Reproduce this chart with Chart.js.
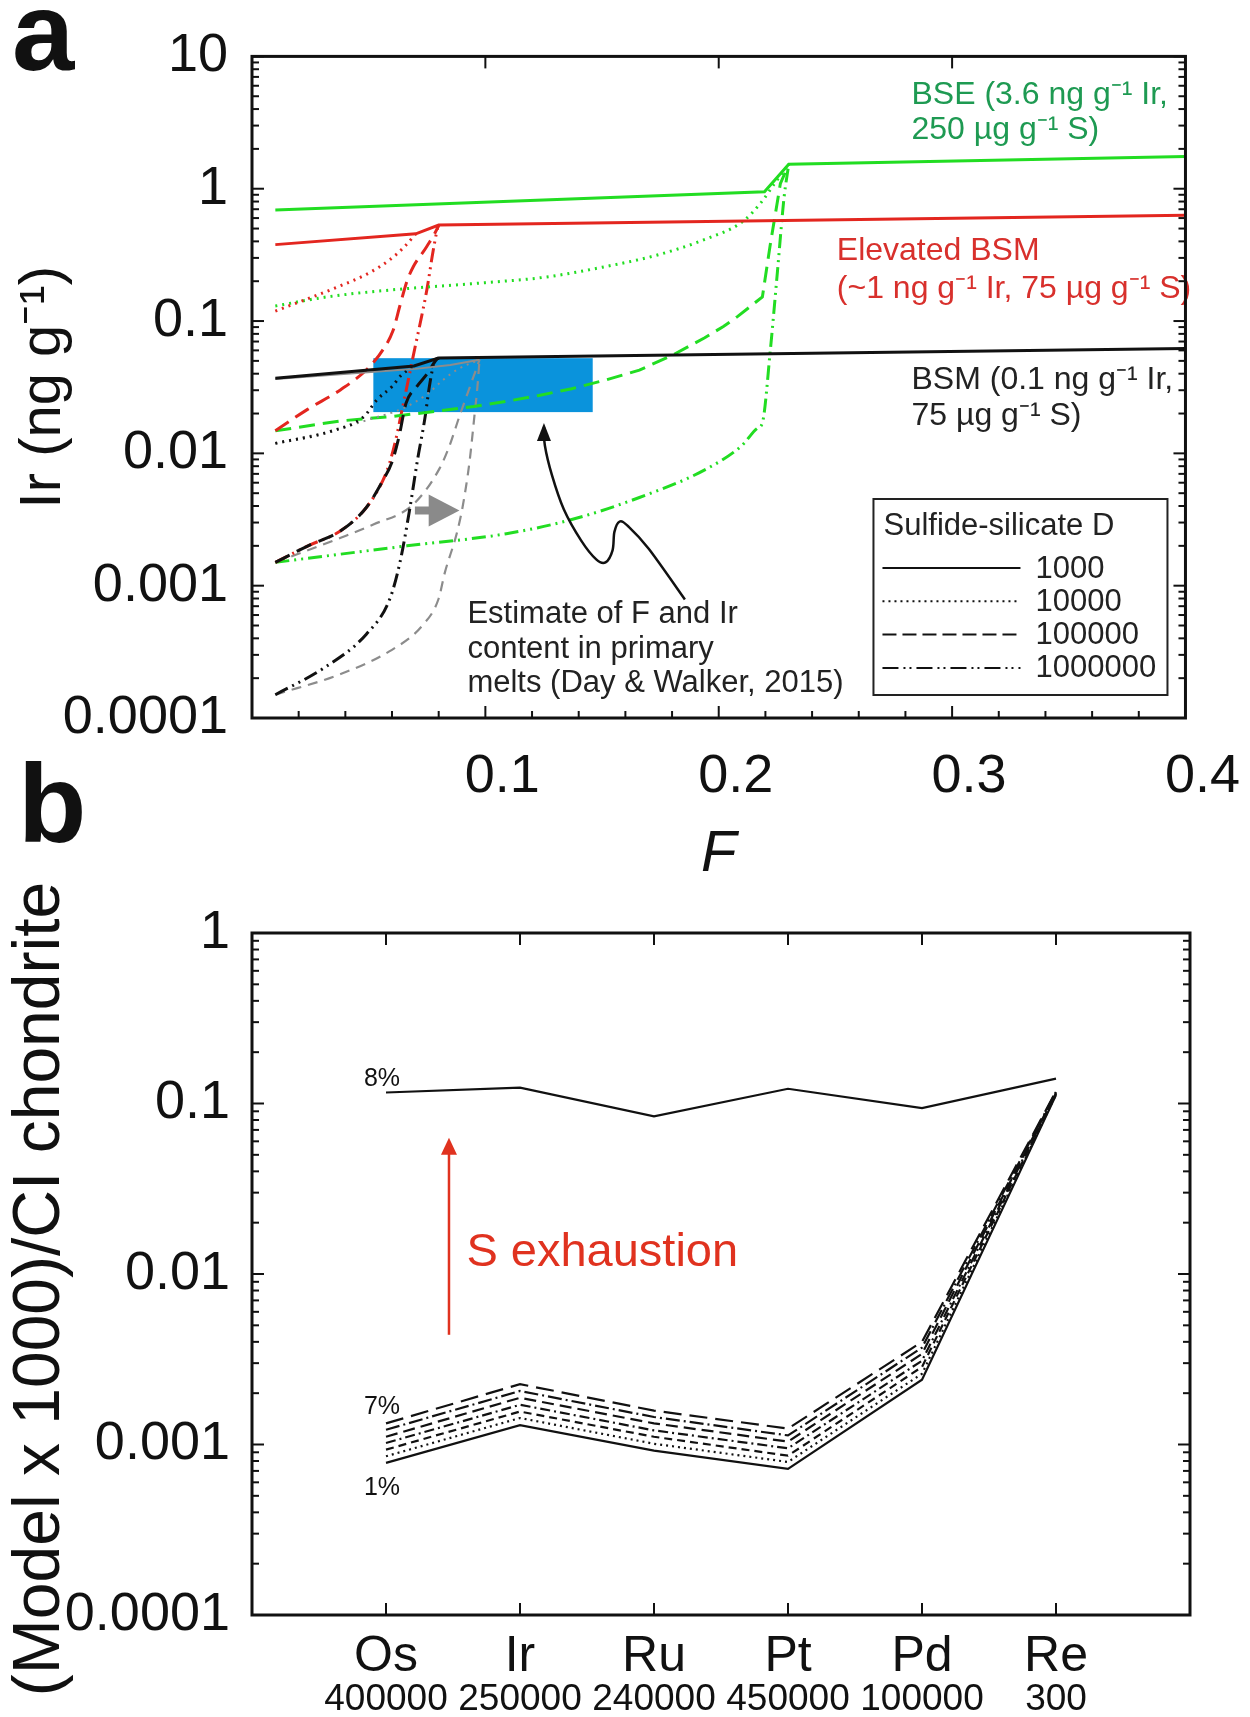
<!DOCTYPE html>
<html lang="en">
<head>
<meta charset="UTF-8">
<title>Ir in melts vs F / HSE patterns</title>
<script src="https://cdn.jsdelivr.net/npm/chart.js"></script>
<style>
  body { margin: 0; background: #fff; }
  #wrap { position: relative; width: 1250px; height: 1717px; }
  #chartA { position: absolute; left: 0; top: 0; }
  #chartB { position: absolute; left: 0; top: 700px; }
</style>
</head>
<body>
<div id="wrap">
  <canvas id="chartA" width="1250" height="900"></canvas>
  <canvas id="chartB" width="1250" height="1017"></canvas>
</div>

<script>
// ---------- panel a : Ir in melt vs F, [F, Ir ng/g] ----------
const bseD3 = [[0.01,0.69],[0.2196,0.95],[0.230,1.53],[0.4,1.75]];
const bseD4 = [[0.01,0.13],[0.033,0.153],[0.06,0.172],[0.1,0.195],[0.126,0.215],[0.15,0.255],[0.173,0.313],[0.195,0.42],[0.21,0.56],[0.218,0.78],[0.224,1.1],[0.230,1.53]];
const bseD5 = [[0.01,0.0148],[0.038,0.0176],[0.06,0.019],[0.08,0.0209],[0.095,0.0226],[0.109,0.0247],[0.123,0.0274],[0.137,0.0308],[0.152,0.036],[0.166,0.0426],[0.18,0.055],[0.194,0.0748],[0.202,0.091],[0.208,0.108],[0.2187,0.152],[0.222,0.37],[0.2264,1.09],[0.230,1.53]];
const bseD6 = [[0.01,0.0015],[0.0664,0.002],[0.109,0.00247],[0.137,0.00316],[0.166,0.00464],[0.194,0.0075],[0.21,0.0115],[0.2166,0.0155],[0.2187,0.017],[0.2221,0.06],[0.2251,0.23],[0.228,0.86],[0.230,1.53]];

const ebsmD3 = [[0.01,0.378],[0.0702,0.456],[0.080,0.532],[0.4,0.63]];
const ebsmD4 = [[0.01,0.119],[0.025,0.15],[0.038,0.185],[0.05,0.23],[0.059,0.29],[0.065,0.36],[0.0702,0.456]];
const ebsmD5 = [[0.01,0.0148],[0.0238,0.0215],[0.038,0.0303],[0.0494,0.0434],[0.0562,0.061],[0.0604,0.0843],[0.0634,0.131],[0.0664,0.2],[0.069,0.255],[0.0749,0.366],[0.0796,0.51],[0.080,0.532]];
const ebsmD6 = [[0.01,0.0015],[0.024,0.002],[0.038,0.0026],[0.049,0.0039],[0.056,0.0062],[0.059,0.0085],[0.062,0.0136],[0.064,0.0201],[0.067,0.036],[0.070,0.065],[0.072,0.095],[0.075,0.175],[0.0775,0.33],[0.0796,0.51],[0.080,0.532]];

const bsmD3 = [[0.01,0.037],[0.0694,0.0457],[0.080,0.0525],[0.4,0.062]];
const bsmD4 = [[0.01,0.0119],[0.034,0.0147],[0.048,0.019],[0.0536,0.0255],[0.06,0.032],[0.064,0.039],[0.0694,0.0457]];
const bsmD5 = [[0.01,0.0015],[0.024,0.002],[0.038,0.0026],[0.049,0.0039],[0.056,0.0062],[0.060,0.0086],[0.063,0.0134],[0.066,0.0239],[0.0706,0.0319],[0.075,0.0398],[0.079,0.051],[0.080,0.0525]];
const bsmD6 = [[0.01,0.00015],[0.031,0.00024],[0.049,0.00043],[0.059,0.00079],[0.0634,0.0015],[0.0677,0.0039],[0.071,0.0091],[0.074,0.018],[0.0762,0.0336],[0.0783,0.05],[0.080,0.0525]];

// grey = BSM curves shifted to higher F
const greyD3 = [[0.01,0.0365],[0.07,0.0435],[0.085,0.0465],[0.0975,0.051]];
const greyD4 = [[0.01,0.0119],[0.034,0.0148],[0.05,0.018],[0.065,0.022],[0.075,0.028],[0.082,0.036],[0.088,0.043],[0.0975,0.051]];
const greyD5 = [[0.01,0.0015],[0.038,0.0023],[0.052,0.0029],[0.069,0.0041],[0.0804,0.0077],[0.0847,0.0115],[0.0889,0.0191],[0.0919,0.0269],[0.0975,0.051]];
const greyD6 = [[0.01,0.00015],[0.038,0.000215],[0.059,0.00032],[0.073,0.0005],[0.080,0.0008],[0.0826,0.00125],[0.0877,0.00247],[0.0902,0.0039],[0.0932,0.0086],[0.0953,0.0191],[0.0966,0.0319],[0.0975,0.051]];

const boxF = [0.052, 0.146];        // Day & Walker 2015 estimate
const boxIr = [0.0205, 0.0524];

const xTicksA = [0.1, 0.2, 0.3, 0.4];
const xLabelsA = ['0.1', '0.2', '0.3', '0.4'];
const yTicksA = [0.0001, 0.001, 0.01, 0.1, 1, 10];
const yLabelsA = ['0.0001', '0.001', '0.01', '0.1', '1', '10'];
const legendD = ['1000', '10000', '100000', '1000000'];

// ---------- panel b : model melt / CI chondrite ----------
const elements = ['Os', 'Ir', 'Ru', 'Pt', 'Pd', 'Re'];
const partD = ['400000', '250000', '240000', '450000', '100000', '300'];
const melt8 = [0.116, 0.124, 0.084, 0.122, 0.094, 0.140];
const melt7 = [0.00133, 0.00226, 0.00158, 0.00124, 0.0040, 0.118];
const melt6 = [0.00122, 0.00206, 0.00145, 0.00113, 0.0037, 0.117];
const melt5 = [0.00111, 0.00188, 0.00133, 0.00104, 0.0034, 0.116];
const melt4 = [0.00102, 0.00171, 0.00121, 0.00095, 0.0031, 0.115];
const melt3 = [0.000933, 0.00156, 0.00111, 0.00086, 0.00285, 0.114];
const melt2 = [0.000853, 0.00143, 0.00101, 0.00079, 0.0026, 0.113];
const melt1 = [0.00078, 0.00130, 0.00092, 0.00072, 0.0024, 0.112];
const yTicksB = [0.0001, 0.001, 0.01, 0.1, 1];
const yLabelsB = ['0.0001', '0.001', '0.01', '0.1', '1'];

// ---------- styles ----------
const FONT = "'Liberation Sans', Arial, Helvetica, sans-serif";
const GREEN = '#22dd22', RED = '#e3261f', BLACK = '#111111', GREY = '#8c8c8c';
const SOLID = [], DOT = [2, 5], DASH = [16, 8], DASHDOT = [14, 5, 2, 5, 2, 5], GDASH = [10, 7];

// narrow face for the partition coefficients, if it is installed
function hasFont(name) {
    const c = document.createElement('canvas').getContext('2d');
    c.font = '40px monospace';
    const w0 = c.measureText('400000 mmm').width;
    c.font = "40px '" + name + "', monospace";
    return Math.abs(c.measureText('400000 mmm').width - w0) > 0.5;
}
const narrowOk = hasFont('Liberation Sans Narrow');
const NUM_FONT = narrowOk ? "'Liberation Sans Narrow', " + FONT : FONT;
const NUM_SIZE = narrowOk ? 43 : 37;

Chart.defaults.font.family = FONT;
Chart.defaults.color = '#111';

function curve(pairs, color, dash, width, sharp) {
    return {
        data: pairs.map(p => ({ x: p[0], y: p[1] })),
        borderColor: color,
        borderDash: dash,
        borderWidth: width || 3,
        pointRadius: 0,
        fill: false,
        tension: 0,
        cubicInterpolationMode: (dash.length && !sharp) ? 'monotone' : 'default'
    };
}

function series(vals, dash, width) {
    return {
        data: vals.map((v, i) => ({ x: i + 1, y: v })),
        borderColor: BLACK,
        borderDash: dash,
        borderWidth: width || 2.2,
        pointRadius: 0,
        fill: false,
        tension: 0
    };
}

// box frame with inward ticks (log y, both sides)
function makeFrame(yDecades, xMajor, xMinorBottom) {
    return {
        id: 'frame',
        afterDraw(chart) {
            const { ctx, chartArea: a } = chart;
            const xs = chart.scales.x, ys = chart.scales.y;
            ctx.save();
            ctx.strokeStyle = '#111';
            ctx.lineWidth = 2;
            const tick = (x1, y1, x2, y2) => { ctx.beginPath(); ctx.moveTo(x1, y1); ctx.lineTo(x2, y2); ctx.stroke(); };
            yDecades.forEach((d, i) => {
                const p = ys.getPixelForValue(d);
                tick(a.left, p, a.left + 12, p);
                tick(a.right, p, a.right - 12, p);
                if (i < yDecades.length - 1) {
                    for (let k = 2; k < 10; k++) {
                        const q = ys.getPixelForValue(k * d);
                        tick(a.left, q, a.left + 7, q);
                        tick(a.right, q, a.right - 7, q);
                    }
                }
            });
            xMajor.forEach(v => {
                const p = xs.getPixelForValue(v);
                tick(p, a.bottom, p, a.bottom - 12);
                tick(p, a.top, p, a.top + 12);
            });
            xMinorBottom.forEach(v => {
                const p = xs.getPixelForValue(v);
                tick(p, a.bottom, p, a.bottom - 7);
            });
            ctx.lineWidth = 3;
            ctx.strokeRect(a.left, a.top, a.right - a.left, a.bottom - a.top);
            ctx.restore();
        }
    };
}

function pt(chart, x, y) {
    return { x: chart.scales.x.getPixelForValue(x), y: chart.scales.y.getPixelForValue(y) };
}

function text(ctx, str, x, y, size, color, align, style) {
    ctx.font = (style ? style + ' ' : '') + size + 'px ' + FONT;
    ctx.fillStyle = color;
    ctx.textAlign = align || 'left';
    ctx.textBaseline = 'middle';
    ctx.fillText(str, x, y);
}

// ---------- chart a ----------
const minorA = [];
for (let i = 1; i < 20; i++) if (i % 5) minorA.push(i * 0.02);

const notesA = {
    id: 'notesA',
    beforeDatasetsDraw(chart) {
        const ctx = chart.ctx;
        const p0 = pt(chart, boxF[0], boxIr[1]), p1 = pt(chart, boxF[1], boxIr[0]);
        ctx.save();
        ctx.fillStyle = '#0a93dc';
        ctx.fillRect(p0.x, p0.y, p1.x - p0.x, p1.y - p0.y);
        ctx.restore();
    },
    afterDatasetsDraw(chart) {
        const ctx = chart.ctx;
        ctx.save();

        // grey shift arrow
        const s0 = pt(chart, 0.0698, 0.0037), s1 = pt(chart, 0.0757, 0.0037), s2 = pt(chart, 0.0889, 0.0037);
        ctx.fillStyle = '#8a8a8a';
        ctx.fillRect(s0.x, s0.y - 4, s1.x - s0.x + 1, 8);
        ctx.beginPath();
        ctx.moveTo(s1.x, s1.y - 16); ctx.lineTo(s2.x, s2.y); ctx.lineTo(s1.x, s1.y + 16); ctx.closePath();
        ctx.fill();

        // curved pointer from the note to the blue box
        const path = [[0.1855,0.000787],[0.170,0.0019],[0.1613,0.0028],[0.1575,0.00305],[0.1553,0.00255],[0.1545,0.00185],
            [0.1515,0.0015],[0.1475,0.00158],[0.141,0.0022],[0.1336,0.00378],[0.1285,0.00687],[0.1255,0.01146],[0.1251,0.0158]]
            .map(p => pt(chart, p[0], p[1]));
        ctx.strokeStyle = '#111';
        ctx.lineWidth = 2.5;
        ctx.beginPath();
        ctx.moveTo(path[0].x, path[0].y);
        for (let i = 0; i < path.length - 1; i++) {
            const a0 = path[Math.max(i - 1, 0)], a1 = path[i], a2 = path[i + 1], a3 = path[Math.min(i + 2, path.length - 1)];
            ctx.bezierCurveTo(a1.x + (a2.x - a0.x) / 6, a1.y + (a2.y - a0.y) / 6,
                              a2.x - (a3.x - a1.x) / 6, a2.y - (a3.y - a1.y) / 6, a2.x, a2.y);
        }
        ctx.stroke();
        const tip = path[path.length - 1];
        ctx.fillStyle = '#111';
        ctx.beginPath();
        ctx.moveTo(tip.x, tip.y - 4); ctx.lineTo(tip.x - 7, tip.y + 14); ctx.lineTo(tip.x + 7, tip.y + 14); ctx.closePath();
        ctx.fill();

        // labels
        let p = pt(chart, 0.2826, 5.05);
        text(ctx, 'BSE (3.6 ng g\u207B\u00B9 Ir,', p.x, p.y, 32, '#1e9a52');
        p = pt(chart, 0.2826, 2.78);
        text(ctx, '250 \u00B5g g\u207B\u00B9 S)', p.x, p.y, 32, '#1e9a52');
        p = pt(chart, 0.2506, 0.336);
        text(ctx, 'Elevated BSM', p.x, p.y, 32, '#d8302c');
        p = pt(chart, 0.2506, 0.175);
        text(ctx, '(~1 ng g\u207B\u00B9 Ir, 75 \u00B5g g\u207B\u00B9 S)', p.x, p.y, 32, '#d8302c');
        p = pt(chart, 0.2826, 0.036);
        text(ctx, 'BSM (0.1 ng g\u207B\u00B9 Ir,', p.x, p.y, 32, '#222');
        p = pt(chart, 0.2826, 0.0191);
        text(ctx, '75 \u00B5g g\u207B\u00B9 S)', p.x, p.y, 32, '#222');
        p = pt(chart, 0.0923, 0.00061);
        text(ctx, 'Estimate of F and Ir', p.x, p.y, 31, '#222');
        p = pt(chart, 0.0923, 0.00033);
        text(ctx, 'content in primary', p.x, p.y, 31, '#222');
        p = pt(chart, 0.0923, 0.000182);
        text(ctx, 'melts (Day & Walker, 2015)', p.x, p.y, 31, '#222');
        ctx.restore();
    },
    afterDraw(chart) {
        const ctx = chart.ctx, a = chart.chartArea;
        ctx.save();
        // legend box
        const L = a.right - 312, T = a.bottom - 219, W = 294, H = 196;
        ctx.fillStyle = '#fff';
        ctx.fillRect(L, T, W, H);
        ctx.strokeStyle = '#222';
        ctx.lineWidth = 2;
        ctx.strokeRect(L, T, W, H);
        text(ctx, 'Sulfide-silicate D', L + 10, T + 27, 31, '#222');
        const dashes = [SOLID, [2, 4], [14, 6], [16, 5, 2, 4, 2, 5]];
        legendD.forEach((lab, i) => {
            const y = T + 69 + i * 33.3;
            ctx.setLineDash(dashes[i]);
            ctx.strokeStyle = '#111';
            ctx.lineWidth = 2;
            ctx.beginPath(); ctx.moveTo(L + 9, y); ctx.lineTo(L + 147, y); ctx.stroke();
            ctx.setLineDash([]);
            text(ctx, lab, L + 162, y + 1, 31, '#222');
        });
        // panel letter
        ctx.font = 'bold 112px ' + FONT;
        ctx.fillStyle = '#111';
        ctx.textAlign = 'left';
        ctx.textBaseline = 'alphabetic';
        ctx.fillText('a', 12, 70);
        ctx.restore();
    }
};

new Chart(document.getElementById('chartA'), {
    type: 'line',
    data: {
        datasets: [
            curve(bsmD3, BLACK, SOLID, 3),
            curve(ebsmD3, RED, SOLID, 3),
            curve(bseD3, GREEN, SOLID, 3),
            curve(greyD3, GREY, SOLID, 2),
            curve(bsmD4, BLACK, DOT, 3),
            curve(ebsmD4, RED, DOT, 3),
            curve(bseD4, GREEN, DOT, 3),
            curve(greyD4, GREY, DOT, 2),
            curve(bsmD5, BLACK, DASH, 3),
            curve(ebsmD5, RED, DASH, 3),
            curve(bseD5, GREEN, DASH, 3, true),
            curve(bsmD6, BLACK, DASHDOT, 3),
            curve(ebsmD6, RED, DASHDOT, 3),
            curve(bseD6, GREEN, DASHDOT, 3),
            curve(greyD5, GREY, GDASH, 2.2),
            curve(greyD6, GREY, GDASH, 2.2)
        ]
    },
    options: {
        responsive: false,
        animation: false,
        devicePixelRatio: 1,
        layout: { padding: { top: 43, right: 60, left: 0, bottom: 0 } },
        plugins: { legend: { display: false }, tooltip: { enabled: false } },
        scales: {
            x: {
                type: 'linear', min: 0, max: 0.4,
                afterBuildTicks: s => { s.ticks = xTicksA.map(v => ({ value: v })); },
                afterFit: s => { s.height = 182; },
                grid: { display: false, drawTicks: false },
                border: { display: false },
                ticks: {
                    autoSkip: false, maxRotation: 0, padding: 27, labelOffset: 17,
                    font: { size: 54 }, color: '#111',
                    callback: (v, i) => xLabelsA[i]
                },
                title: { display: true, text: 'F', font: { size: 58, style: 'italic' }, color: '#111', padding: { top: 0, bottom: 10 } }
            },
            y: {
                type: 'logarithmic', min: 0.0001, max: 10,
                afterBuildTicks: s => { s.ticks = yTicksA.map(v => ({ value: v })); },
                afterFit: s => { s.width = 252; },
                grid: { display: false, drawTicks: false },
                border: { display: false },
                ticks: {
                    autoSkip: false, padding: 24,
                    font: { size: 54 }, color: '#111',
                    callback: (v, i) => yLabelsA[i]
                },
                title: { display: true, text: 'Ir (ng g\u207B\u00B9)', font: { size: 58 }, color: '#111', padding: { top: 9, bottom: 0 } }
            }
        }
    },
    plugins: [notesA, makeFrame(yTicksA, xTicksA.slice(0, 3), minorA)]
});

// ---------- chart b ----------
const notesB = {
    id: 'notesB',
    afterDatasetsDraw(chart) {
        const ctx = chart.ctx;
        ctx.save();
        // S exhaustion arrow
        const b0 = pt(chart, 1.47, 0.0044), b1 = pt(chart, 1.47, 0.063);
        ctx.strokeStyle = '#e0321f';
        ctx.fillStyle = '#e0321f';
        ctx.lineWidth = 2.5;
        ctx.beginPath(); ctx.moveTo(b0.x, b0.y); ctx.lineTo(b1.x, b1.y + 14); ctx.stroke();
        ctx.beginPath(); ctx.moveTo(b1.x, b1.y); ctx.lineTo(b1.x - 8, b1.y + 17); ctx.lineTo(b1.x + 8, b1.y + 17); ctx.closePath(); ctx.fill();
        let p = pt(chart, 1.6, 0.0111);
        ctx.font = '47px ' + FONT;
        ctx.textAlign = 'left';
        ctx.textBaseline = 'alphabetic';
        ctx.fillText('S exhaustion', p.x, p.y);

        // melt-fraction labels
        ctx.fillStyle = '#111';
        ctx.font = '25px ' + FONT;
        ctx.textAlign = 'center';
        p = pt(chart, 0.97, melt8[0]);
        ctx.fillText('8%', p.x, p.y - 7);
        p = pt(chart, 0.97, melt7[0]);
        ctx.fillText('7%', p.x, p.y - 9);
        p = pt(chart, 0.97, melt1[0]);
        ctx.fillText('1%', p.x, p.y + 32);

        // y title (longer than the plot, drawn by hand)
        ctx.translate(41, 589);
        ctx.rotate(-Math.PI / 2);
        text(ctx, '(Model x 1000)/CI chondrite', 0, 0, 66, '#111', 'center');
        ctx.restore();

        ctx.save();
        ctx.font = 'bold 112px ' + FONT;
        ctx.fillStyle = '#111';
        ctx.textAlign = 'left';
        ctx.textBaseline = 'alphabetic';
        ctx.fillText('b', 18, 142);
        ctx.restore();
    }
};

const catTicks = elements.map((e, i) => i + 1);

new Chart(document.getElementById('chartB'), {
    type: 'line',
    data: {
        datasets: [
            series(melt8, SOLID),
            series(melt1, SOLID),
            series(melt2, [2, 4]),
            series(melt3, [8, 5]),
            series(melt4, [10, 4, 2, 4]),
            series(melt5, [12, 6]),
            series(melt6, [14, 4, 2, 4]),
            series(melt7, [18, 8])
        ]
    },
    options: {
        responsive: false,
        animation: false,
        devicePixelRatio: 1,
        layout: { padding: { top: 233, right: 60, left: 0, bottom: 0 } },
        plugins: { legend: { display: false }, tooltip: { enabled: false } },
        scales: {
            x: {
                type: 'linear', min: 0, max: 7, position: 'bottom', weight: 1,
                afterBuildTicks: s => { s.ticks = catTicks.map(v => ({ value: v })); },
                afterFit: s => { s.height = 62; },
                grid: { display: false, drawTicks: false },
                border: { display: false },
                ticks: {
                    autoSkip: false, maxRotation: 0, padding: 12,
                    font: { size: 50 }, color: '#111',
                    callback: (v, i) => elements[i]
                }
            },
            xD: {
                type: 'linear', min: 0, max: 7, position: 'bottom', weight: 2,
                afterBuildTicks: s => { s.ticks = catTicks.map(v => ({ value: v })); },
                afterFit: s => { s.height = 40; },
                grid: { display: false, drawTicks: false },
                border: { display: false },
                ticks: {
                    autoSkip: false, maxRotation: 0, padding: 4,
                    font: { family: NUM_FONT, size: NUM_SIZE, lineHeight: 1 }, color: '#111',
                    callback: (v, i) => partD[i]
                }
            },
            y: {
                type: 'logarithmic', min: 0.0001, max: 1,
                afterBuildTicks: s => { s.ticks = yTicksB.map(v => ({ value: v })); },
                afterFit: s => { s.width = 252; },
                grid: { display: false, drawTicks: false },
                border: { display: false },
                ticks: {
                    autoSkip: false, padding: 22,
                    font: { size: 54 }, color: '#111',
                    callback: (v, i) => yLabelsB[i]
                }
            }
        }
    },
    plugins: [notesB, makeFrame(yTicksB, catTicks, [])]
});
</script>
</body>
</html>
